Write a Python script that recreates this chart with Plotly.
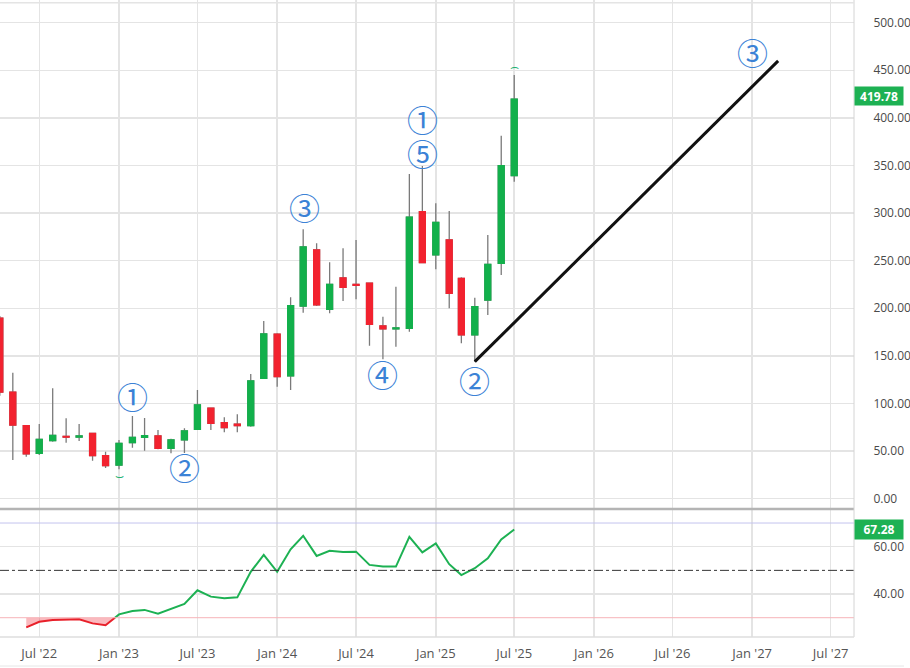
import pandas as pd
import plotly.graph_objects as go

# ---------------- data ----------------
months = pd.date_range("2022-04-01", "2025-07-01", freq="MS")

opens = [189.6, 112.0, 76.7, 47.7, 61.0, 65.5, 64.8, 68.7, 45.2,
         35.4, 58.8, 64.5, 65.9, 52.9, 61.7, 72.9, 95.0, 79.8, 78.2, 76.7, 126.5,
         172.7, 128.9, 202.4, 261.2, 199.0, 231.8, 225.2, 226.3, 181.4, 178.5, 179.0, 301.5,
         256.0, 271.7, 231.5, 172.0, 208.7, 247.3, 339.3]
highs = [192.0, 132.4, 77.4, 78.5, 116.0, 84.5, 78.5, 69.0, 49.4,
         61.7, 86.9, 84.8, 72.2, 63.0, 74.0, 114.2, 95.3, 85.5, 88.7, 131.0, 186.7,
         173.7, 211.6, 283.0, 268.3, 248.3, 263.0, 271.7, 226.3, 191.2, 222.7, 341.0, 349.5,
         310.3, 302.2, 232.6, 211.1, 277.0, 381.3, 445.0]
lows = [108.0, 40.7, 44.1, 45.9, 59.9, 58.8, 60.6, 39.9, 32.2,
        30.9, 53.6, 50.4, 51.9, 47.7, 48.0, 72.2, 72.2, 69.7, 69.7, 75.6, 126.5,
        117.6, 114.2, 195.4, 202.4, 194.7, 207.7, 209.5, 160.7, 146.4, 159.7, 175.4, 247.3,
        241.0, 200.0, 163.2, 143.9, 193.0, 235.0, 333.0]
closes = [112.0, 77.4, 47.0, 62.4, 66.6, 64.6, 65.9, 45.2, 34.7,
          58.2, 64.5, 66.2, 52.9, 61.7, 71.1, 98.4, 79.2, 74.6, 76.7, 123.6, 173.0,
          128.2, 202.7, 264.4, 203.5, 225.2, 222.0, 224.2, 183.2, 178.3, 179.3, 295.6, 247.9,
          290.3, 215.8, 172.0, 201.7, 246.2, 349.8, 419.78]

rsi_dates = pd.date_range("2022-06-01", "2025-07-01", freq="MS")
rsi_values = [25.9, 28.3, 29.0, 29.0, 29.3, 27.6, 26.8,
              31.4, 32.8, 33.3, 31.7, 33.7, 35.8, 41.6, 38.9, 38.2, 38.6, 49.4, 56.5,
              49.4, 58.9, 64.6, 56.1, 58.3, 57.8, 57.9, 52.3, 51.6, 51.6, 64.2, 57.6,
              61.4, 52.6, 48.0, 50.9, 55.1, 63.1, 67.28]
rsi_upper, rsi_mid, rsi_lower = 70, 50, 30

wave_line_dates = ["2025-04-01", "2027-03-02"]
wave_line_prices = [143.9, 459.8]

wave_labels = ["①", "②", "③", "④", "①", "⑤", "②", "③"]
wave_label_dates = ["2023-02-02", "2023-06-02", "2024-03-03", "2024-09-01",
                    "2024-12-01", "2024-12-01", "2025-04-01", "2027-01-01"]
wave_label_prices = [108.9, 33.3, 307.0, 132.0, 399.7, 364.0, 124.7, 470.0]

pivot_dates = ["2023-01-01", "2025-07-01"]
pivot_prices = [24.0, 455.0]
pivot_glyphs = ["⌣", "⌢"]

tick_dates = ["2022-07-01", "2023-01-01", "2023-07-01", "2024-01-01", "2024-07-01",
              "2025-01-01", "2025-07-01", "2026-01-01", "2026-07-01", "2027-01-01", "2027-07-01"]
tick_labels = ["Jul '22", "Jan '23", "Jul '23", "Jan '24", "Jul '24", "Jan '25",
               "Jul '25", "Jan '26", "Jul '26", "Jan '27", "Jul '27"]

# ---------------- style ----------------
GREEN = "#12b04b"
RED = "#f2222f"
WICK = "#7a7a7a"
GRID = "#e4e4e4"
LABEL_BLUE = "#3b82d6"
FONT = "Open Sans"

fig = go.Figure()

# wicks (gray)
fig.add_trace(go.Candlestick(
    x=months, open=opens, high=highs, low=lows, close=closes,
    increasing=dict(line=dict(color=WICK, width=1.3), fillcolor=WICK),
    decreasing=dict(line=dict(color=WICK, width=1.3), fillcolor=WICK),
    whiskerwidth=0, xaxis="x", yaxis="y", hoverinfo="skip", showlegend=False))

# bodies (colored)
body_hi = [max(o, c) for o, c in zip(opens, closes)]
body_lo = [min(o, c) for o, c in zip(opens, closes)]
fig.add_trace(go.Candlestick(
    x=months, open=opens, high=body_hi, low=body_lo, close=closes,
    increasing=dict(line=dict(color=GREEN, width=1.3), fillcolor=GREEN),
    decreasing=dict(line=dict(color=RED, width=1.3), fillcolor=RED),
    whiskerwidth=0, xaxis="x", yaxis="y", hoverinfo="skip", showlegend=False))

# wave trend line
fig.add_trace(go.Scatter(x=pd.to_datetime(wave_line_dates), y=wave_line_prices,
                         mode="lines", line=dict(color="#111111", width=3),
                         xaxis="x", yaxis="y", hoverinfo="skip", showlegend=False))

# ---------------- RSI ----------------
cross_idx = next(i for i, v in enumerate(rsi_values) if v >= rsi_lower)
v0, v1 = rsi_values[cross_idx - 1], rsi_values[cross_idx]
d0, d1 = rsi_dates[cross_idx - 1], rsi_dates[cross_idx]
t = (rsi_lower - v0) / (v1 - v0)
cross_date = d0 + (d1 - d0) * t

red_x = list(rsi_dates[:cross_idx]) + [cross_date]
red_y = list(rsi_values[:cross_idx]) + [rsi_lower]
green_x = [cross_date] + list(rsi_dates[cross_idx:])
green_y = [rsi_lower] + list(rsi_values[cross_idx:])

fig.add_trace(go.Scatter(x=red_x, y=[rsi_lower] * len(red_x), mode="lines",
                         line=dict(width=0, color="rgba(0,0,0,0)"),
                         xaxis="x2", yaxis="y2", hoverinfo="skip", showlegend=False))
fig.add_trace(go.Scatter(x=red_x, y=red_y, mode="lines", fill="tonexty",
                         fillcolor="rgba(242,54,69,0.35)",
                         line=dict(color="#e8202a", width=2),
                         xaxis="x2", yaxis="y2", hoverinfo="skip", showlegend=False))
fig.add_trace(go.Scatter(x=green_x, y=green_y, mode="lines",
                         line=dict(color="#1db153", width=2),
                         xaxis="x2", yaxis="y2", hoverinfo="skip", showlegend=False))

# RSI level lines
fig.add_shape(type="line", xref="paper", x0=0, x1=1, yref="y2", y0=rsi_upper, y1=rsi_upper,
              line=dict(color="#c3c3ee", width=1))
fig.add_shape(type="line", xref="paper", x0=0, x1=1, yref="y2", y0=rsi_mid, y1=rsi_mid,
              line=dict(color="#333333", width=1, dash="dashdot"))
fig.add_shape(type="line", xref="paper", x0=0, x1=1, yref="y2", y0=rsi_lower, y1=rsi_lower,
              line=dict(color="#f6b3b8", width=1))

# ---------------- layout ----------------
H, W = 668, 910
PLOT_BOTTOM = 31
plot_h = H - PLOT_BOTTOM  # 637
price_dom = [(plot_h - 508.5) / plot_h, 1]
rsi_dom = [0, (plot_h - 510) / plot_h]

xrange = ["2022-04-01 10:00", "2027-08-24"]

fig.update_layout(
    width=W, height=H,
    margin=dict(l=0, r=56, t=0, b=PLOT_BOTTOM),
    paper_bgcolor="white", plot_bgcolor="white",
    font=dict(family=FONT, color="#4a4a4a", size=12),
    hovermode=False, dragmode=False,
    xaxis=dict(domain=[0, 1], anchor="y", type="date", range=xrange,
               rangeslider=dict(visible=False),
               tickvals=pd.to_datetime(tick_dates), ticktext=tick_labels,
               showticklabels=False, showgrid=True, gridcolor=GRID, gridwidth=1.5,
               zeroline=False, showline=False),
    xaxis2=dict(domain=[0, 1], anchor="y2", type="date", range=xrange, matches="x",
                tickvals=pd.to_datetime(tick_dates), ticktext=tick_labels,
                showticklabels=True, showgrid=True, gridcolor=GRID, gridwidth=1.5,
                ticks="outside", ticklen=4, tickcolor="rgba(0,0,0,0)",
                tickfont=dict(size=13, color="#555555"),
                zeroline=False, showline=False),
    yaxis=dict(domain=price_dom, anchor="x", side="right", range=[-10.3, 523.8],
               tickvals=[0, 50, 100, 150, 200, 250, 300, 350, 400, 450, 500],
               tickformat=".2f", showgrid=True, gridcolor=GRID, gridwidth=1.5,
               zeroline=False, showline=False, ticks="outside", ticklen=16,
               tickcolor="rgba(0,0,0,0)", tickfont=dict(size=12, color="#4a4a4a")),
    yaxis2=dict(domain=rsi_dom, anchor="x2", side="right", range=[21.85, 75.5],
                tickvals=[40, 60], tickformat=".2f", showgrid=True, gridcolor=GRID,
                gridwidth=1.5, zeroline=False, showline=False, ticks="outside",
                ticklen=16, tickcolor="rgba(0,0,0,0)",
                tickfont=dict(size=12, color="#4a4a4a")),
)

# frame lines
sep_y = (plot_h - 509) / plot_h
fig.add_shape(type="line", xref="paper", yref="paper", x0=0, x1=1, y0=sep_y, y1=sep_y,
              line=dict(color="#b4b4b4", width=2.5))
fig.add_shape(type="line", xref="paper", yref="paper", x0=1, x1=1, y0=0, y1=1,
              line=dict(color="#d4d4d4", width=1))
fig.add_shape(type="line", xref="paper", yref="paper", x0=0, x1=1, y0=0, y1=0,
              line=dict(color="#dedede", width=1.5))
fig.add_shape(type="line", xref="paper", yref="paper", x0=0, x1=1, y0=1 - 2.7 / plot_h,
              y1=1 - 2.7 / plot_h, line=dict(color="#e4e4e4", width=1.5))
fig.add_shape(type="line", xref="paper", yref="paper", x0=0, x1=1 + 50 / 854,
              y0=-(666 - plot_h) / plot_h, y1=-(666 - plot_h) / plot_h,
              line=dict(color="#e6e6e6", width=1))

# wave labels
for txt, d, p in zip(wave_labels, wave_label_dates, wave_label_prices):
    fig.add_annotation(x=pd.Timestamp(d), y=p, xref="x", yref="y", text=txt,
                       showarrow=False, borderpad=0,
                       font=dict(family="Noto Sans CJK JP", size=31, color=LABEL_BLUE))

# pivot marks
for g, d, p in zip(pivot_glyphs, pivot_dates, pivot_prices):
    fig.add_annotation(x=pd.Timestamp(d), y=p, xref="x", yref="y", text=g,
                       showarrow=False, font=dict(family="DejaVu Sans", size=14,
                                                  color="#22b070"))

# last value labels
fig.add_annotation(x=1, xref="paper", xanchor="left", y=closes[-1], yref="y",
                   text="<b>%.2f</b>" % closes[-1], showarrow=False,
                   bgcolor="#1db153", width=46, height=16, yshift=3,
                   font=dict(family=FONT, size=12, color="white"))
fig.add_annotation(x=1, xref="paper", xanchor="left", y=rsi_values[-1], yref="y2",
                   text="<b>%.2f</b>" % rsi_values[-1], showarrow=False,
                   bgcolor="#1db153", width=46, height=17,
                   font=dict(family=FONT, size=12, color="white"))

fig.write_html("out.html",
               config={"displayModeBar": False, "staticPlot": True},
               post_script="document.body.style.margin='0px';"
                           "document.body.style.padding='0px';"
                           "document.body.style.overflow='hidden';")
